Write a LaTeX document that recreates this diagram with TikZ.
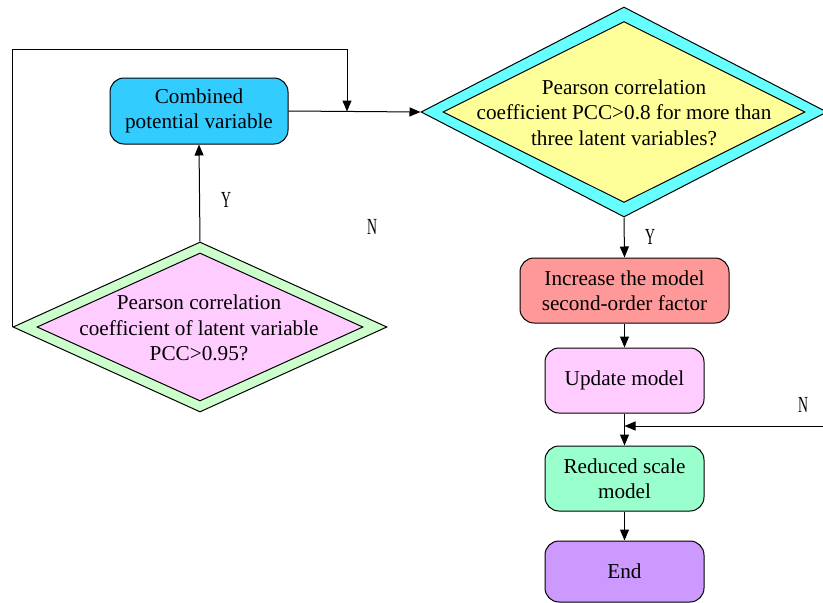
\documentclass[tikz,border=0pt]{standalone}
\usepackage{fontspec}
\usepackage{graphicx}
\setmainfont{Liberation Serif}
\usetikzlibrary{arrows.meta,shapes.geometric}
\definecolor{cComb}{HTML}{33CCFF}
\definecolor{cOutA}{HTML}{66FFFF}
\definecolor{cInA}{HTML}{FFFF99}
\definecolor{cOutB}{HTML}{CCFFCC}
\definecolor{cInB}{HTML}{FFCCFF}
\definecolor{cInc}{HTML}{FF9999}
\definecolor{cUpd}{HTML}{FFCCFF}
\definecolor{cRed}{HTML}{99FFCC}
\definecolor{cEnd}{HTML}{CC99FF}
\newcommand{\ynlab}[1]{\scalebox{0.6}[1]{\fontsize{23}{24}\selectfont #1}}
\begin{document}
\begin{tikzpicture}[x=1pt,y=-1pt,
  every node/.style={font=\fontsize{21.2}{25.5}\selectfont},
  box/.style={draw=black,line width=1pt,rounded corners=14pt,inner sep=0pt,align=center},
  dia/.style={draw=black,line width=1pt,shape=diamond,inner sep=0pt,aspect=2},
  txt/.style={align=center,inner sep=0pt},
  yn/.style={inner sep=0pt},
  arr/.style={draw=black,line width=1pt,-{Triangle[length=11pt,width=9pt]}},
  ln/.style={draw=black,line width=1pt}]
\useasboundingbox (0,0) rectangle (823,603);

% top-right decision
\node[dia,fill=cOutA,minimum width=406pt,minimum height=210pt] (d1o) at (624,112) {};
\node[dia,fill=cInA,minimum width=362pt,minimum height=181pt] (d1i) at (624,112) {};
\node[txt] (d1t) at (624,112.5) {Pearson correlation\\coefficient PCC>0.8 for more than\\three latent variables?};

% left decision
\node[dia,fill=cOutB,minimum width=374pt,minimum height=170pt] (d2o) at (200,327) {};
\node[dia,fill=cInB,minimum width=326pt,minimum height=148pt] (d2i) at (200,327) {};
\node[txt] (d2t) at (199,328) {Pearson correlation\\coefficient of latent variable\\PCC>0.95?};

% boxes
\node[box,fill=cComb,minimum width=178pt,minimum height=66pt] (comb) at (199,111) {Combined\\potential variable};
\node[box,fill=cInc,minimum width=209pt,minimum height=65pt] (inc) at (624.5,290.5) {Increase the model\\second-order factor};
\node[box,fill=cUpd,minimum width=159pt,minimum height=65pt] (upd) at (624.5,380.5) {Update model};
\node[box,fill=cRed,minimum width=159pt,minimum height=65pt] (red) at (624.5,478.5) {Reduced scale\\model};
\node[box,fill=cEnd,minimum width=159pt,minimum height=61pt] (fin) at (624.5,571.5) {End};

% connectors
\draw[arr] (d2o.north) -- (comb.south);
\draw[arr] (comb.east) -- (d1o.west);
\coordinate (j1) at (347,111.5);
\coordinate (ltop) at (0,49);
\draw[arr] (d2o.west) |- (j1 |- ltop) -- (j1);
\draw[arr] (d1o.south) -- (inc.north);
\draw[arr] (inc.south) -- (upd.north);
\draw[arr] (upd.south) -- (red.north);
\draw[arr] (red.south) -- (fin.north);
\coordinate (nr) at (823,426);
\coordinate (j2) at (upd.south |- nr);
\draw[arr] (nr) -- (j2);

% labels
\node[yn] (ly1) at (226,200) {\ynlab{Y}};
\node[yn] (ln1) at (372,227) {\ynlab{N}};
\node[yn] (ly2) at (650,237) {\ynlab{Y}};
\node[yn] (ln2) at (803,405) {\ynlab{N}};
\end{tikzpicture}
\end{document}
